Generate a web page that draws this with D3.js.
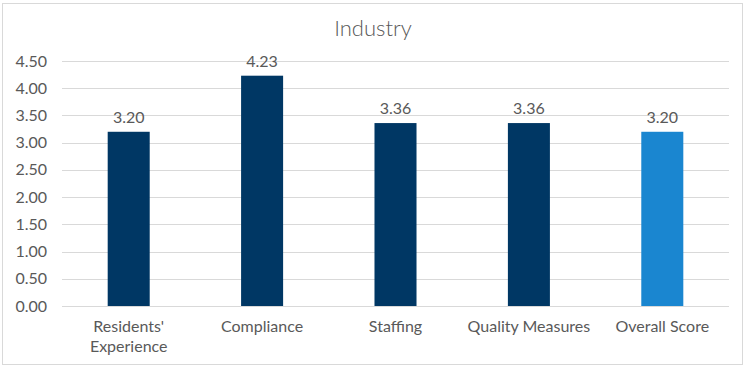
<!DOCTYPE html>
<html><head><meta charset="utf-8">
<script src="https://cdn.jsdelivr.net/npm/d3@7"></script>
<style>body{margin:0;background:#fff}svg{display:block}text{font-family:Lato,"Open Sans",sans-serif;fill:#595959}</style>
</head><body><svg id="c" width="746" height="369"></svg>
<script>
const categories = [["Residents'","Experience"],["Compliance"],["Staffing"],["Quality Measures"],["Overall Score"]];
const values = [3.20, 4.23, 3.36, 3.36, 3.20];
const barColors = ["#003764","#003764","#003764","#003764","#1a86d0"];
const yTicks = [0,0.5,1,1.5,2,2.5,3,3.5,4,4.5];
const title = "Industry";

const svg = d3.select("#c");
svg.append("rect").attr("x",2.5).attr("y",3.5).attr("width",740).attr("height",361).attr("fill","#fff").attr("stroke","#d9d9d9");
const m = {l:62, r:729, t:61, b:306};
const x = d3.scaleBand().domain(d3.range(categories.length)).range([m.l,m.r]).paddingInner(0.685).paddingOuter(0.3425);
const y = d3.scaleLinear().domain([0,4.5]).range([m.b,m.t]);

svg.append("g").selectAll("line").data(yTicks).join("line")
  .attr("x1",m.l).attr("x2",m.r).attr("y1",d=>Math.round(y(d))+0.5).attr("y2",d=>Math.round(y(d))+0.5)
  .attr("stroke","#d9d9d9").attr("stroke-width",1);
svg.append("g").selectAll("text").data(yTicks).join("text")
  .attr("x",47).attr("y",d=>y(d)).attr("dy","0.35em").attr("text-anchor","end")
  .attr("font-size",16).text(d=>d.toFixed(2));

svg.append("g").selectAll("rect").data(values).join("rect")
  .attr("x",(d,i)=>x(i)).attr("width",x.bandwidth()).attr("y",d=>y(d)).attr("height",d=>y(0)-y(d))
  .attr("fill",(d,i)=>barColors[i]);
svg.append("g").selectAll("text").data(values).join("text")
  .attr("x",(d,i)=>x(i)+x.bandwidth()/2).attr("y",d=>y(d)-9).attr("text-anchor","middle")
  .attr("font-size",16).text(d=>d.toFixed(2));

const xl = svg.append("g").selectAll("text").data(categories).join("text")
  .attr("x",(d,i)=>x(i)+x.bandwidth()/2).attr("y",332).attr("text-anchor","middle").attr("font-size",16);
xl.selectAll("tspan").data(d=>d).join("tspan").attr("x",function(){return this.parentNode.getAttribute("x");})
  .attr("dy",(d,i)=>i?20:0).text(d=>d);

svg.append("text").attr("x",373).attr("y",36).attr("text-anchor","middle").attr("font-size",22).attr("font-weight",300).text(title);
</script></body></html>
